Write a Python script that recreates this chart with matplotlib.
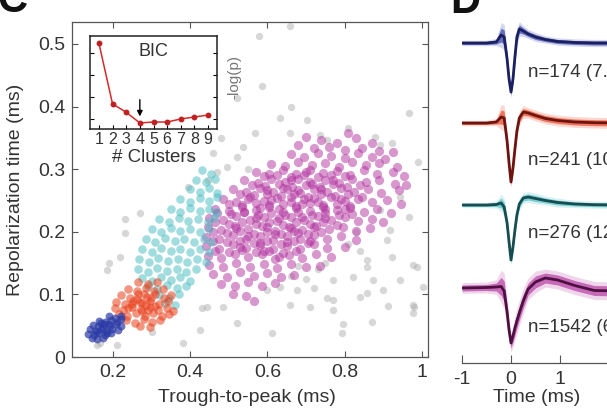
import matplotlib
matplotlib.use('Agg')
import matplotlib.pyplot as plt
import numpy as np

plt.rcParams['font.family'] = ['Liberation Sans', 'DejaVu Sans']

# ---------------- data ----------------
gray_xy = [
    (0.578, 0.512), (0.658, 0.528), (0.586, 0.432), (0.521, 0.414), (0.661, 0.400), (0.968, 0.390),
    (0.632, 0.381), (0.702, 0.378), (0.808, 0.366), (0.567, 0.358), (0.658, 0.358), (0.878, 0.352),
    (0.536, 0.336), (0.891, 0.339), (0.924, 0.342), (0.736, 0.355), (0.989, 0.312), (0.521, 0.320),
    (0.459, 0.326), (0.754, 0.347), (0.909, 0.187), (0.924, 0.160), (0.976, 0.147), (0.873, 0.123),
    (0.899, 0.107), (0.912, 0.082), (0.976, 0.083), (0.976, 0.070), (0.870, 0.056), (0.795, 0.053),
    (0.792, 0.038), (0.611, 0.038), (0.521, 0.054), (0.425, 0.043), (0.443, 0.080), (0.485, 0.080),
    (0.658, 0.083), (0.754, 0.094), (0.839, 0.096), (0.769, 0.075), (0.710, 0.080), (0.821, 0.128),
    (0.857, 0.155), (0.917, 0.203), (0.968, 0.224), (0.943, 0.256), (0.891, 0.235), (0.676, 0.107),
    (0.632, 0.112), (0.598, 0.107), (0.231, 0.198), (0.218, 0.160), (0.469, 0.296), (0.495, 0.304),
    (0.446, 0.283), (0.381, 0.022), (0.166, 0.022), (0.394, 0.272), (0.430, 0.078), (0.184, 0.139),
    (0.301, 0.040), (0.981, 0.080), (0.769, 0.091), (0.857, 0.102), (0.943, 0.123), (1.002, 0.112),
    (0.987, 0.144), (0.857, 0.144), (0.769, 0.123), (0.660, 0.130), (0.700, 0.125), (0.730, 0.140),
    (0.680, 0.145), (0.750, 0.150), (0.720, 0.110), (0.810, 0.180), (0.840, 0.170), (0.830, 0.200),
    (0.400, 0.320), (0.480, 0.350), (0.550, 0.300), (0.230, 0.220), (0.190, 0.150), (0.270, 0.230),
    (0.159, 0.019), (0.210, 0.019),
]

purple_xy = [
    (0.74, 0.347), (0.78, 0.342), (0.83, 0.349), (0.87, 0.341), (0.70, 0.352), (0.81, 0.358),
    (0.72, 0.333), (0.76, 0.336), (0.80, 0.331), (0.845, 0.334), (0.89, 0.329), (0.68, 0.338),
    (0.66, 0.324), (0.695, 0.319), (0.73, 0.326), (0.765, 0.321), (0.80, 0.318), (0.835, 0.325),
    (0.87, 0.320), (0.905, 0.316), (0.925, 0.327),
    (0.61, 0.309), (0.645, 0.305), (0.68, 0.312), (0.715, 0.306), (0.75, 0.310), (0.785, 0.304),
    (0.82, 0.311), (0.855, 0.306), (0.89, 0.310), (0.935, 0.303),
    (0.57, 0.296), (0.605, 0.292), (0.64, 0.298), (0.675, 0.293), (0.71, 0.299), (0.745, 0.294),
    (0.78, 0.297), (0.815, 0.291), (0.85, 0.298), (0.885, 0.293), (0.925, 0.296), (0.955, 0.289),
    (0.54, 0.282), (0.575, 0.278), (0.61, 0.285), (0.645, 0.279), (0.68, 0.284), (0.715, 0.277),
    (0.75, 0.283), (0.785, 0.278), (0.82, 0.284), (0.855, 0.279), (0.89, 0.283), (0.93, 0.277),
    (0.96, 0.274),
    (0.51, 0.268), (0.545, 0.263), (0.58, 0.270), (0.615, 0.264), (0.65, 0.269), (0.685, 0.262),
    (0.72, 0.268), (0.755, 0.263), (0.79, 0.270), (0.825, 0.264), (0.86, 0.268), (0.895, 0.262),
    (0.94, 0.266),
    (0.485, 0.252), (0.52, 0.248), (0.555, 0.255), (0.59, 0.249), (0.625, 0.254), (0.66, 0.247),
    (0.695, 0.253), (0.73, 0.248), (0.765, 0.255), (0.80, 0.249), (0.835, 0.253), (0.87, 0.247),
    (0.91, 0.251), (0.945, 0.245),
    (0.465, 0.237), (0.50, 0.233), (0.535, 0.240), (0.57, 0.234), (0.605, 0.239), (0.64, 0.232),
    (0.675, 0.238), (0.71, 0.233), (0.745, 0.240), (0.78, 0.234), (0.815, 0.238), (0.85, 0.232),
    (0.885, 0.236), (0.92, 0.230),
    (0.45, 0.222), (0.485, 0.218), (0.52, 0.225), (0.555, 0.219), (0.59, 0.224), (0.625, 0.217),
    (0.66, 0.223), (0.695, 0.218), (0.73, 0.225), (0.765, 0.219), (0.80, 0.223), (0.835, 0.217),
    (0.87, 0.221), (0.90, 0.215),
    (0.445, 0.207), (0.48, 0.203), (0.515, 0.210), (0.55, 0.204), (0.585, 0.209), (0.62, 0.202),
    (0.655, 0.208), (0.69, 0.203), (0.725, 0.210), (0.76, 0.204), (0.795, 0.208), (0.83, 0.202),
    (0.865, 0.206),
    (0.44, 0.192), (0.475, 0.188), (0.51, 0.195), (0.545, 0.189), (0.58, 0.194), (0.615, 0.187),
    (0.65, 0.193), (0.685, 0.188), (0.72, 0.195), (0.755, 0.189), (0.79, 0.193), (0.83, 0.187),
    (0.44, 0.177), (0.475, 0.173), (0.51, 0.180), (0.545, 0.174), (0.58, 0.179), (0.615, 0.172),
    (0.65, 0.178), (0.685, 0.173), (0.72, 0.180), (0.755, 0.174), (0.80, 0.176),
    (0.445, 0.162), (0.48, 0.158), (0.515, 0.165), (0.55, 0.159), (0.585, 0.164), (0.62, 0.157),
    (0.655, 0.163), (0.69, 0.158), (0.725, 0.164), (0.765, 0.160),
    (0.45, 0.147), (0.485, 0.143), (0.52, 0.150), (0.555, 0.144), (0.59, 0.149), (0.625, 0.142),
    (0.66, 0.148), (0.70, 0.143), (0.735, 0.146),
    (0.46, 0.132), (0.495, 0.128), (0.53, 0.135), (0.565, 0.129), (0.60, 0.134), (0.635, 0.127),
    (0.67, 0.131),
    (0.48, 0.117), (0.515, 0.113), (0.55, 0.120), (0.585, 0.114), (0.62, 0.118),
    (0.51, 0.101), (0.545, 0.097), (0.565, 0.090),
    (0.59, 0.289), (0.625, 0.290), (0.66, 0.288), (0.695, 0.291), (0.73, 0.287), (0.765, 0.290),
    (0.80, 0.289),
    (0.56, 0.275), (0.595, 0.273), (0.63, 0.276), (0.665, 0.272), (0.70, 0.275), (0.735, 0.271),
    (0.77, 0.276), (0.805, 0.272), (0.84, 0.274),
    (0.53, 0.260), (0.565, 0.258), (0.60, 0.261), (0.635, 0.257), (0.67, 0.260), (0.705, 0.256),
    (0.74, 0.261), (0.775, 0.257), (0.81, 0.260), (0.845, 0.256),
    (0.50, 0.245), (0.535, 0.243), (0.57, 0.246), (0.605, 0.242), (0.64, 0.245), (0.675, 0.241),
    (0.71, 0.246), (0.745, 0.242), (0.78, 0.245), (0.815, 0.241),
    (0.47, 0.230), (0.505, 0.228), (0.54, 0.231), (0.575, 0.227), (0.61, 0.230), (0.645, 0.226),
    (0.68, 0.231), (0.715, 0.227), (0.75, 0.230), (0.785, 0.226), (0.82, 0.229),
    (0.465, 0.215), (0.50, 0.213), (0.535, 0.216), (0.57, 0.212), (0.605, 0.215), (0.64, 0.211),
    (0.675, 0.216), (0.71, 0.212), (0.745, 0.215), (0.78, 0.211),
    (0.46, 0.200), (0.495, 0.198), (0.53, 0.201), (0.565, 0.197), (0.60, 0.200), (0.635, 0.196),
    (0.67, 0.201), (0.705, 0.197), (0.74, 0.200),
    (0.46, 0.185), (0.495, 0.183), (0.53, 0.186), (0.565, 0.182), (0.60, 0.185), (0.635, 0.181),
    (0.67, 0.186), (0.705, 0.182),
    (0.465, 0.170), (0.50, 0.168), (0.535, 0.171), (0.57, 0.167), (0.605, 0.170), (0.64, 0.166),
    (0.675, 0.170),
    # dense core
    (0.55, 0.252), (0.58, 0.238), (0.61, 0.250), (0.63, 0.236), (0.66, 0.256), (0.69, 0.244),
    (0.72, 0.254), (0.75, 0.237), (0.57, 0.222), (0.60, 0.208), (0.63, 0.222), (0.66, 0.206),
    (0.69, 0.224), (0.72, 0.208), (0.75, 0.222), (0.55, 0.194), (0.58, 0.182), (0.62, 0.196),
    (0.65, 0.184), (0.68, 0.198), (0.71, 0.186), (0.60, 0.266), (0.64, 0.270), (0.68, 0.266),
    (0.71, 0.280), (0.74, 0.268), (0.77, 0.282), (0.79, 0.252), (0.80, 0.236), (0.52, 0.206),
    (0.53, 0.176), (0.59, 0.170), (0.63, 0.160), (0.54, 0.232), (0.66, 0.283), (0.70, 0.296),
]

teal_xy = [
    (0.43, 0.298), (0.455, 0.292),
    (0.415, 0.283), (0.44, 0.279), (0.465, 0.285),
    (0.40, 0.268), (0.425, 0.264), (0.45, 0.270), (0.47, 0.262),
    (0.375, 0.252), (0.40, 0.248), (0.425, 0.254), (0.45, 0.249), (0.47, 0.255),
    (0.35, 0.236), (0.375, 0.232), (0.40, 0.238), (0.425, 0.233), (0.45, 0.237), (0.468, 0.231),
    (0.32, 0.220), (0.345, 0.216), (0.37, 0.222), (0.395, 0.217), (0.42, 0.221), (0.445, 0.216),
    (0.462, 0.222),
    (0.30, 0.204), (0.325, 0.200), (0.35, 0.206), (0.375, 0.201), (0.40, 0.205), (0.425, 0.200),
    (0.45, 0.204),
    (0.285, 0.188), (0.31, 0.184), (0.335, 0.190), (0.36, 0.185), (0.385, 0.189), (0.41, 0.184),
    (0.435, 0.188), (0.455, 0.183),
    (0.275, 0.172), (0.30, 0.168), (0.325, 0.174), (0.35, 0.169), (0.375, 0.173), (0.40, 0.168),
    (0.425, 0.172), (0.45, 0.167),
    (0.268, 0.156), (0.293, 0.152), (0.318, 0.158), (0.343, 0.153), (0.368, 0.157), (0.393, 0.152),
    (0.418, 0.156), (0.44, 0.151),
    (0.265, 0.140), (0.29, 0.136), (0.315, 0.142), (0.34, 0.137), (0.365, 0.141), (0.39, 0.136),
    (0.415, 0.140),
    (0.275, 0.126), (0.30, 0.122), (0.325, 0.128), (0.35, 0.123), (0.375, 0.127), (0.40, 0.122),
    (0.29, 0.113), (0.315, 0.109), (0.34, 0.115), (0.365, 0.110), (0.388, 0.114),
    (0.32, 0.099), (0.345, 0.095), (0.37, 0.100),
    (0.335, 0.086), (0.36, 0.083),
]

red_xy = [
    (0.265, 0.119), (0.29, 0.116), (0.315, 0.120),
    (0.24, 0.109), (0.262, 0.105), (0.285, 0.110), (0.307, 0.106), (0.33, 0.109),
    (0.22, 0.099), (0.243, 0.095), (0.265, 0.100), (0.287, 0.096), (0.31, 0.100), (0.332, 0.095),
    (0.35, 0.099),
    (0.208, 0.088), (0.23, 0.085), (0.252, 0.090), (0.275, 0.086), (0.297, 0.090), (0.32, 0.085),
    (0.342, 0.089),
    (0.205, 0.078), (0.227, 0.075), (0.25, 0.080), (0.272, 0.076), (0.295, 0.080), (0.317, 0.075),
    (0.34, 0.079), (0.355, 0.074),
    (0.215, 0.069), (0.237, 0.065), (0.26, 0.070), (0.282, 0.066), (0.305, 0.070), (0.327, 0.066),
    (0.345, 0.068),
    (0.235, 0.059), (0.258, 0.055), (0.28, 0.060), (0.302, 0.056), (0.322, 0.059),
    (0.27, 0.050), (0.295, 0.048),
    (0.262, 0.093), (0.285, 0.083), (0.275, 0.073), (0.298, 0.095), (0.25, 0.085), (0.28, 0.100),
    (0.29, 0.075), (0.27, 0.088), (0.31, 0.082), (0.24, 0.078),
]

blue_xy = [
    (0.19, 0.066), (0.205, 0.063), (0.22, 0.066),
    (0.165, 0.058), (0.18, 0.056), (0.195, 0.059), (0.21, 0.056), (0.222, 0.060),
    (0.148, 0.051), (0.162, 0.049), (0.177, 0.052), (0.192, 0.049), (0.207, 0.052), (0.22, 0.050),
    (0.14, 0.044), (0.153, 0.042), (0.168, 0.045), (0.183, 0.042), (0.198, 0.045), (0.212, 0.043),
    (0.135, 0.037), (0.15, 0.035), (0.165, 0.038), (0.18, 0.035), (0.195, 0.038),
    (0.145, 0.030), (0.16, 0.028), (0.175, 0.031),
    (0.175, 0.047), (0.19, 0.053), (0.16, 0.040), (0.185, 0.039), (0.17, 0.055),
]

# BIC inset
n_clusters = [1, 2, 3, 4, 5, 6, 7, 8, 9]
neg_log_p = [0.925, 0.27, 0.18, 0.065, 0.075, 0.075, 0.108, 0.129, 0.15]
best_k = 4

# mean waveforms (time in ms, amplitude in display units, up = positive)
t_ms = [-1.0, -0.5, -0.3, -0.2, -0.14, -0.08, -0.04, 0.0, 0.04, 0.08, 0.12, 0.17,
        0.25, 0.35, 0.5, 0.7, 0.95, 1.3, 1.7, 2.2, 3.0]
blue_mean = [0, 0, 1, 8, 6, -16, -36, -49, -36, -14, 6, 14, 12, 9, 6, 3.5, 1.5, 0.5, 0, 0, 0]
blue_sd = [1.5, 1.5, 2, 7, 7, 5, 4, 3, 4, 5, 5, 4, 3, 2.5, 2.5, 2, 2, 2, 2, 2, 2]
red_mean = [0, 0, 1, 6, 5, -18, -40, -59, -45, -26, -8, 5, 11, 10, 7.5, 4.5, 2.5, 1, 0.3, 0, 0]
red_sd = [1.5, 1.5, 2, 7, 7, 5, 4, 3, 4, 4, 4, 4, 3.5, 3, 3, 3, 3, 3, 3, 3, 3]
teal_mean = [0, 0, 0.5, 2, -2, -18, -37, -55, -42, -25, -10, 1, 7, 8, 6.5, 4.5, 2.5, 1, 0.3, 0, 0]
teal_sd = [1.5, 1.5, 2, 5, 5, 5, 4, 3, 4, 4, 4, 3.5, 3, 3, 3, 2.5, 2.5, 2, 2, 2, 2]
purple_mean = [0, 0.5, 1, 1.5, -3, -24, -42, -55, -48, -40, -33, -25, -13, -1, 6, 10, 8, 2.5,
               -2.5, -3, -1]
purple_sd = [3, 3, 4, 9, 10, 8, 6, 5, 6, 7, 7, 7, 7, 6, 6, 5, 5, 5, 5, 5, 5]

cluster_n = [174, 241, 276, 1542]
cluster_pct = ['7.8', '10.8', '12.4', '69.1']

# ---------------- styling ----------------
c_blue, c_red, c_teal, c_purple, c_gray = '#2b3aa6', '#e8401c', '#45bcc0', '#b2329f', '#a8a8a8'
dark_blue, dark_red, dark_teal, dark_purple = '#1c2060', '#6e1410', '#174c50', '#4e1040'
txt_c = '#333333'

fig = plt.figure(figsize=(6.07, 4.12), dpi=100)
W, H = 607, 412

def px_axes(l, t, r, b):
    return [l / W, (H - b) / H, (r - l) / W, (b - t) / H]

# ---- main scatter ----
ax = fig.add_axes(px_axes(72, 22, 428, 357))
for pts, col, a, sz in [(gray_xy, c_gray, 0.45, 28), (purple_xy, c_purple, 0.5, 44),
                        (teal_xy, c_teal, 0.5, 38), (red_xy, c_red, 0.55, 38),
                        (blue_xy, c_blue, 0.7, 32)]:
    arr = np.array(pts)
    ax.scatter(arr[:, 0], arr[:, 1], s=sz, color=col, alpha=a, linewidths=0)
ax.set_xlim(0.094, 1.016)
ax.set_ylim(0, 0.535)
ax.set_xticks([0.2, 0.4, 0.6, 0.8, 1.0])
ax.set_xticklabels(['0.2', '0.4', '0.6', '0.8', '1'])
ax.set_yticks([0, 0.1, 0.2, 0.3, 0.4, 0.5])
ax.set_yticklabels(['0', '0.1', '0.2', '0.3', '0.4', '0.5'])
ax.tick_params(direction='in', top=True, right=True, length=4, width=0.8,
               labelsize=14, labelcolor=txt_c, color='#555555', pad=5)
for sp in ax.spines.values():
    sp.set_color('#555555')
    sp.set_linewidth(0.9)
ax.set_xlabel('Trough-to-peak (ms)', fontsize=14, color=txt_c, va='center')
ax.xaxis.set_label_coords(0.49, -(397 - 357) / 335)
ax.set_ylabel('Repolarization time (ms)', fontsize=14, color=txt_c, va='center')
ax.yaxis.set_label_coords(-(72 - 16) / 356, 0.5)

# ---- inset BIC ----
axi = fig.add_axes(px_axes(90, 36, 217, 129))
axi.set_facecolor('white')
axi.plot(n_clusters, neg_log_p, color='#d42a2a', lw=1.1, marker='o', ms=3.2,
         markerfacecolor='#c02020', markeredgecolor='#c02020')
axi.annotate('', xy=(best_k, neg_log_p[best_k - 1] + 0.07),
             xytext=(best_k, neg_log_p[best_k - 1] + 0.25),
             arrowprops=dict(arrowstyle='-|>', color='black', lw=1.0, mutation_scale=8,
                             shrinkA=0, shrinkB=0))
axi.set_xlim(0.35, 9.65)
axi.set_ylim(0, 1)
axi.set_xticks(n_clusters)
axi.set_yticks([0.108, 0.344, 0.58, 0.817])
axi.set_yticklabels([])
axi.tick_params(direction='in', right=True, length=3, width=0.8, labelsize=11.5,
                labelcolor=txt_c, pad=2)
for sp in axi.spines.values():
    sp.set_color('#222222')
    sp.set_linewidth(1.1)
axi.text(4.96, 0.83, 'BIC', fontsize=13, color=txt_c, ha='center', va='center')
axi.set_xlabel('# Clusters', fontsize=13.5, color=txt_c, va='center')
axi.xaxis.set_label_coords(0.5, -(157 - 129) / 93)
axi.yaxis.set_label_position('right')
axi.set_ylabel('-log(p)', fontsize=11, color='#777777', rotation=90, va='center')
axi.yaxis.set_label_coords((234 - 90) / 127, (129 - 77) / 93)

# ---- waveforms ----
axw = fig.add_axes(px_axes(462, 5, 658, 363))
axw.set_xlim(-1, 3)
axw.set_ylim(0, 358)
t = np.array(t_ms)
baselines = [320, 240, 158, 75]
label_drop = [29, 37, 28, 39]
waves = [(blue_mean, blue_sd, c_blue, dark_blue),
         (red_mean, red_sd, c_red, dark_red),
         (teal_mean, teal_sd, c_teal, dark_teal),
         (purple_mean, purple_sd, c_purple, dark_purple)]
for (m, s, bc, lc), base, drop, n, p in zip(waves, baselines, label_drop, cluster_n, cluster_pct):
    m = np.array(m, dtype=float)
    s = np.array(s, dtype=float)
    axw.fill_between(t, base + m - 1.8 * s, base + m + 1.8 * s, color=bc, alpha=0.2, lw=0)
    axw.fill_between(t, base + m - s, base + m + s, color=bc, alpha=0.65, lw=0)
    axw.plot(t, base + m, color=lc, lw=2.0, solid_joinstyle='round')
    axw.text(0.35, base - drop, f'n={n} ({p}%)', fontsize=13.5, color=txt_c,
             ha='left', va='center')
for side in ['left', 'right', 'top']:
    axw.spines[side].set_visible(False)
axw.spines['bottom'].set_color('#555555')
axw.spines['bottom'].set_linewidth(0.9)
axw.set_yticks([])
axw.set_xticks([-1, 0, 1])
axw.set_xticklabels(['-1', '0', '1'])
axw.tick_params(axis='x', direction='in', length=6, width=0.8, labelsize=14,
                labelcolor=txt_c, color='#555555', pad=6)
axw.set_xlabel('Time (ms)', fontsize=14, color=txt_c, va='center')
axw.xaxis.set_label_coords((537 - 462) / 196, -(397 - 363) / 358)

# ---- panel letters (cropped at top) ----
fig.text(-3 / W, (H - 12) / H, 'C', fontsize=30, fontweight='bold', color='#111111',
         ha='left', va='baseline')
fig.text(450 / W, (H - 13) / H, 'D', fontsize=30, fontweight='bold', color='#111111',
         ha='left', va='baseline')

fig.savefig('out.png', dpi=100)
